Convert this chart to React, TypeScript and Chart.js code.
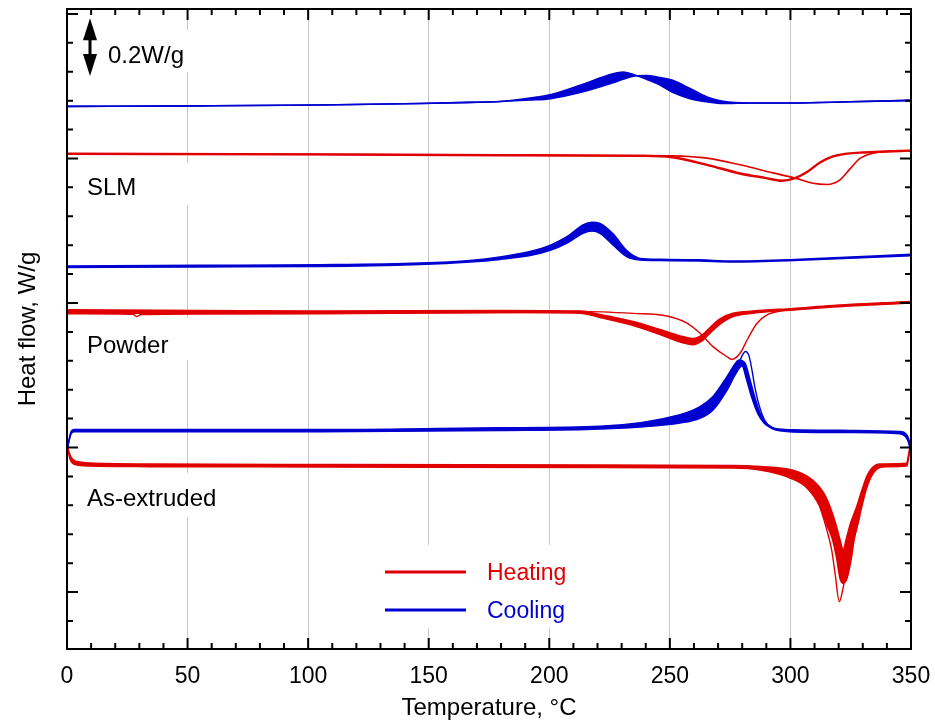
import React, { useEffect, useRef } from "react";
import { Chart, registerables } from "chart.js";

Chart.register(...registerables);

const RED = "#e00000";
const BLUE = "#0000d0";
const FONT = "'Liberation Sans', Arial, Helvetica, sans-serif";

// ---- axes ----
const tempTicks = [0, 50, 100, 150, 200, 250, 300, 350];
const xMin = 0;
const xMax = 350;
const xMinorStep = 10;
const xMajorStep = 50;
const yMin = -0.197;
const yMax = 2.017;
const yMinorStep = 0.1;
const scaleBarTop = 1.985;
const scaleBarSize = 0.2; // W/g

// ---- SLM, cooling (first and last cycle bound the band) ----
const slmCoolT = [0, 55.15, 104.92, 146.39, 167.12, 179.56, 192.0, 200.71, 212.74, 226.42, 230.57, 236.37, 240.5, 244.67, 250.89, 258.35, 265.4, 272.04, 283.24, 301.07, 324.7, 350];
const slmCoolA = [1.680, 1.682, 1.685, 1.690, 1.694, 1.697, 1.709, 1.721, 1.753, 1.793, 1.799, 1.786, 1.773, 1.759, 1.730, 1.707, 1.696, 1.690, 1.692, 1.692, 1.696, 1.701];
const slmCoolB = [1.680, 1.682, 1.685, 1.690, 1.694, 1.697, 1.702, 1.707, 1.728, 1.762, 1.774, 1.786, 1.787, 1.782, 1.771, 1.742, 1.713, 1.698, 1.692, 1.692, 1.696, 1.701];

// ---- SLM, heating ----
const slmHeatCT = [0, 104.92, 179.56, 237.62, 250.89, 265.4, 279.09, 289.46, 296.5, 301.89, 306.87, 312.26, 317.65, 322.63, 328.85, 337.15, 349.59];
const slmHeatC = [1.516, 1.514, 1.511, 1.509, 1.504, 1.478, 1.448, 1.433, 1.423, 1.432, 1.453, 1.486, 1.507, 1.516, 1.520, 1.523, 1.527];
const slmHeatDT = [0, 104.92, 179.56, 237.62, 250.89, 265.4, 279.09, 292.77, 301.89, 309.36, 315.17, 320.56, 324.7, 328.85, 334.24, 341.29, 349.59];
const slmHeatD = [1.516, 1.514, 1.511, 1.510, 1.509, 1.501, 1.478, 1.450, 1.432, 1.414, 1.410, 1.426, 1.464, 1.500, 1.518, 1.525, 1.527];

// ---- Powder, cooling ----
const powCoolT = [0, 55.15, 104.92, 146.39, 167.12, 179.56, 192.0, 200.71, 207.35, 213.98, 217.71, 221.03, 226.42, 232.23, 237.62, 245.91, 262.5, 276.18, 303.97, 350];
const powCool1 = [1.128, 1.130, 1.132, 1.138, 1.147, 1.159, 1.178, 1.201, 1.229, 1.270, 1.279, 1.275, 1.239, 1.180, 1.154, 1.151, 1.149, 1.145, 1.151, 1.168];
const powCool2 = [1.123, 1.125, 1.126, 1.133, 1.142, 1.151, 1.164, 1.183, 1.207, 1.241, 1.249, 1.241, 1.201, 1.160, 1.149, 1.147, 1.145, 1.142, 1.148, 1.164];

// ---- Powder, heating ----
const powHeatET = [0, 55.15, 104.92, 179.56, 212.74, 221.03, 234.72, 245.91, 254.21, 259.6, 263.74, 266.65, 270.8, 276.18, 284.48, 301.07, 317.65, 350];
const powHeatE1 = [0.976, 0.974, 0.972, 0.974, 0.972, 0.960, 0.936, 0.908, 0.886, 0.877, 0.891, 0.915, 0.945, 0.964, 0.972, 0.981, 0.991, 1.005];
const powHeatE2 = [0.965, 0.965, 0.965, 0.967, 0.965, 0.950, 0.922, 0.891, 0.865, 0.856, 0.872, 0.896, 0.927, 0.953, 0.965, 0.976, 0.986, 1.000];
const powHeatFT = [0, 21.98, 27.37, 29.03, 30.69, 55.15, 104.92, 179.56, 212.74, 234.72, 248.82, 257.11, 262.5, 267.89, 273.7, 275.77, 279.09, 282.41, 286.14, 290.29, 295.68, 303.97, 317.65, 350];
const powHeatF = [0.963, 0.962, 0.961, 0.953, 0.960, 0.962, 0.963, 0.967, 0.971, 0.964, 0.955, 0.930, 0.895, 0.849, 0.814, 0.805, 0.826, 0.878, 0.930, 0.959, 0.972, 0.979, 0.990, 1.004];

// ---- As-extruded, cooling ----
const extCoolG1T = [0.21, 0.83, 1.66, 2.9, 34.42, 104.92, 179.56, 221.03, 254.21, 262.5, 267.89, 273.7, 277.01, 278.67, 281.16, 283.24, 285.31, 287.38, 289.87, 292.77, 297.75, 301.07, 324.7, 345.44, 347.93, 349.17, 350];
const extCoolG1 = [0.498, 0.526, 0.554, 0.562, 0.562, 0.562, 0.568, 0.573, 0.613, 0.641, 0.676, 0.745, 0.789, 0.803, 0.792, 0.734, 0.671, 0.619, 0.585, 0.568, 0.562, 0.561, 0.559, 0.555, 0.547, 0.526, 0.484];
const extCoolG2T = [0.21, 0.83, 1.66, 2.9, 34.42, 104.92, 179.56, 221.03, 254.21, 262.5, 267.89, 273.7, 277.01, 279.92, 281.99, 284.06, 286.55, 289.04, 292.36, 296.5, 301.07, 324.7, 345.44, 347.93, 349.17, 350];
const extCoolG2 = [0.498, 0.523, 0.547, 0.555, 0.555, 0.555, 0.559, 0.564, 0.585, 0.601, 0.630, 0.699, 0.751, 0.782, 0.730, 0.671, 0.616, 0.585, 0.566, 0.557, 0.554, 0.552, 0.548, 0.536, 0.512, 0.474];
const extCoolOT = [254.21, 267.89, 274.94, 278.26, 279.92, 281.37, 282.82, 284.06, 285.31, 286.97, 289.46, 292.36, 296.5];
const extCoolO = [0.595, 0.651, 0.720, 0.782, 0.817, 0.832, 0.817, 0.768, 0.706, 0.647, 0.592, 0.569, 0.561];

// ---- As-extruded, heating ----
const extHeatH1T = [0.21, 0.83, 1.66, 2.9, 5.39, 9.54, 34.42, 104.92, 221.03, 276.18, 287.38, 300.65, 308.12, 313.51, 316.41, 318.9, 320.56, 321.93, 323.05, 325.12, 327.48, 329.68, 331.75, 333.83, 337.15, 348.22, 348.96, 349.59];
const extHeatH1 = [0.502, 0.484, 0.467, 0.455, 0.450, 0.446, 0.443, 0.441, 0.439, 0.438, 0.434, 0.422, 0.394, 0.346, 0.295, 0.232, 0.180, 0.145, 0.180, 0.242, 0.295, 0.353, 0.401, 0.429, 0.443, 0.445, 0.474, 0.502];
const extHeatH2T = [0.21, 0.83, 1.66, 2.9, 5.39, 9.54, 34.42, 104.92, 221.03, 276.18, 287.38, 300.65, 306.87, 312.26, 314.75, 317.54, 319.31, 320.56, 321.93, 323.46, 325.12, 326.36, 328.02, 329.56, 331.34, 333.41, 335.9, 339.22, 348.22, 348.96, 349.59];
const extHeatH2 = [0.502, 0.474, 0.453, 0.443, 0.438, 0.436, 0.434, 0.433, 0.431, 0.429, 0.422, 0.392, 0.360, 0.295, 0.239, 0.180, 0.111, 0.048, 0.031, 0.048, 0.111, 0.180, 0.242, 0.295, 0.353, 0.398, 0.426, 0.434, 0.436, 0.464, 0.491];
const extHeatRT = [312.26, 314.75, 317.12, 318.48, 320.27, 321.93, 323.46, 325.12, 326.78, 328.85];
const extHeatR = [0.295, 0.225, 0.145, 0.066, -0.033, 0.018, 0.088, 0.145, 0.197, 0.266];

// ---- texts ----
const panelLabels = ["SLM", "Powder", "As-extruded"];
const legendLabels = ["Heating", "Cooling"];
const scaleBarLabel = "0.2W/g";

// ---- layout (pixels) ----
const panelLabelPos = [
  { x: 87, y: 195 },
  { x: 87, y: 353 },
  { x: 87, y: 506 },
];
const maskBoxes = [
  { x: 76, y: 30, w: 126, h: 42 },
  { x: 76, y: 163, w: 126, h: 42 },
  { x: 76, y: 318, w: 126, h: 42 },
  { x: 76, y: 473, w: 144, h: 44 },
  { x: 375, y: 545, w: 225, h: 83 },
];
const legendPos = { x1: 385, x2: 466, tx: 487, y: [572, 610] };

function pts(t: number[], v: number[]) {
  return t.map((x, i) => ({ x, y: v[i] }));
}

function line(t: number[], v: number[], color: string, width: number, fillPrev = false) {
  return {
    data: pts(t, v),
    borderColor: color,
    backgroundColor: color,
    borderWidth: width,
    pointRadius: 0,
    fill: fillPrev ? "-1" : false,
    cubicInterpolationMode: "monotone" as const,
  };
}

const decor = {
  id: "decor",
  beforeDatasetsDraw(chart: any) {
    const { ctx } = chart;
    ctx.save();
    ctx.fillStyle = "#ffffff";
    maskBoxes.forEach((b) => ctx.fillRect(b.x, b.y, b.w, b.h));
    ctx.restore();
  },
  afterDatasetsDraw(chart: any) {
    const { ctx, chartArea: a, scales } = chart;
    const xs = scales.x;
    const ys = scales.y;
    ctx.save();
    ctx.strokeStyle = "#000";
    ctx.lineWidth = 2;
    ctx.strokeRect(a.left, a.top, a.right - a.left, a.bottom - a.top);
    ctx.beginPath();
    for (let v = xMin; v <= xMax; v += xMinorStep) {
      const px = xs.getPixelForValue(v);
      const len = v % xMajorStep === 0 ? 11 : 6;
      ctx.moveTo(px, a.bottom);
      ctx.lineTo(px, a.bottom - len);
      ctx.moveTo(px, a.top);
      ctx.lineTo(px, a.top + len);
    }
    for (let k = Math.ceil(yMin / yMinorStep); k * yMinorStep <= yMax + 1e-9; k++) {
      const py = ys.getPixelForValue(k * yMinorStep);
      const len = k % 5 === 0 ? 11 : 6;
      ctx.moveTo(a.left, py);
      ctx.lineTo(a.left + len, py);
      ctx.moveTo(a.right, py);
      ctx.lineTo(a.right - len, py);
    }
    ctx.stroke();

    // scale bar arrow
    const top = ys.getPixelForValue(scaleBarTop);
    const bot = ys.getPixelForValue(scaleBarTop - scaleBarSize);
    const ax = 90;
    const headH = 22;
    const headW = 7;
    ctx.fillStyle = "#000";
    ctx.beginPath();
    ctx.moveTo(ax, top);
    ctx.lineTo(ax - headW, top + headH);
    ctx.lineTo(ax + headW, top + headH);
    ctx.closePath();
    ctx.fill();
    ctx.beginPath();
    ctx.moveTo(ax, bot);
    ctx.lineTo(ax - headW, bot - headH);
    ctx.lineTo(ax + headW, bot - headH);
    ctx.closePath();
    ctx.fill();
    ctx.fillRect(ax - 1.5, top + headH - 1, 3, bot - top - 2 * headH + 2);

    ctx.font = `24px ${FONT}`;
    ctx.textBaseline = "alphabetic";
    ctx.textAlign = "left";
    ctx.fillText(scaleBarLabel, 108, 63);
    panelLabels.forEach((t, i) => ctx.fillText(t, panelLabelPos[i].x, panelLabelPos[i].y));

    // legend
    const colors = [RED, BLUE];
    ctx.font = `23px ${FONT}`;
    legendLabels.forEach((t, i) => {
      const y = legendPos.y[i];
      ctx.strokeStyle = colors[i];
      ctx.lineWidth = 3;
      ctx.beginPath();
      ctx.moveTo(legendPos.x1, y);
      ctx.lineTo(legendPos.x2, y);
      ctx.stroke();
      ctx.fillStyle = colors[i];
      ctx.fillText(t, legendPos.tx, y + 8);
    });
    ctx.restore();
  },
};

export default function App() {
  const ref = useRef<HTMLCanvasElement>(null);
  useEffect(() => {
    if (!ref.current) return;
    const chart = new Chart(ref.current, {
      type: "line",
      data: {
        datasets: [
          line(slmCoolT, slmCoolA, BLUE, 1.6),
          line(slmCoolT, slmCoolB, BLUE, 1.6, true),
          line(slmHeatCT, slmHeatC, RED, 2.4),
          line(slmHeatDT, slmHeatD, RED, 1.6),
          line(powCoolT, powCool1, BLUE, 1.6),
          line(powCoolT, powCool2, BLUE, 1.6, true),
          line(powHeatET, powHeatE1, RED, 1.6),
          line(powHeatET, powHeatE2, RED, 1.6, true),
          line(powHeatFT, powHeatF, RED, 1.4),
          line(extCoolG1T, extCoolG1, BLUE, 1.6),
          line(extCoolG2T, extCoolG2, BLUE, 1.6, true),
          line(extCoolOT, extCoolO, BLUE, 1.4),
          line(extHeatH1T, extHeatH1, RED, 1.6),
          line(extHeatH2T, extHeatH2, RED, 1.6, true),
          line(extHeatRT, extHeatR, RED, 1.4),
        ] as any,
      },
      options: {
        animation: false,
        responsive: true,
        maintainAspectRatio: false,
        layout: { padding: { top: 9, right: 24, left: 0, bottom: 0 } },
        plugins: { legend: { display: false }, tooltip: { enabled: false } },
        scales: {
          x: {
            type: "linear",
            min: xMin,
            max: xMax,
            afterBuildTicks: (s: any) => {
              s.ticks = tempTicks.map((value) => ({ value }));
            },
            afterFit: (s: any) => {
              s.height = 74;
              s.paddingLeft = 0;
              s.paddingRight = 0;
            },
            grid: {
              drawTicks: false,
              lineWidth: 1,
              color: (c: any) =>
                c.tick && c.tick.value > xMin && c.tick.value < xMax ? "#c8c8c8" : "rgba(0,0,0,0)",
            },
            border: { display: false },
            ticks: {
              padding: 14,
              maxRotation: 0,
              autoSkip: false,
              color: "#000",
              font: { family: FONT, size: 23 },
            },
            title: {
              display: true,
              text: "Temperature, °C",
              color: "#000",
              font: { family: FONT, size: 24 },
              padding: { top: 0, bottom: 0 },
            },
          },
          y: {
            type: "linear",
            min: yMin,
            max: yMax,
            afterFit: (s: any) => {
              s.width = 67;
              s.paddingTop = 0;
              s.paddingBottom = 0;
            },
            grid: { display: false },
            border: { display: false },
            ticks: { display: false },
            title: {
              display: true,
              text: "Heat flow, W/g",
              color: "#000",
              font: { family: FONT, size: 24 },
              padding: { top: 14, bottom: 0 },
            },
          },
        },
      },
      plugins: [decor],
    } as any);
    return () => chart.destroy();
  }, []);
  return (
    <div style={{ position: "fixed", left: 0, top: 0, width: 935, height: 723, background: "#fff" }}>
      <canvas ref={ref} />
    </div>
  );
}
